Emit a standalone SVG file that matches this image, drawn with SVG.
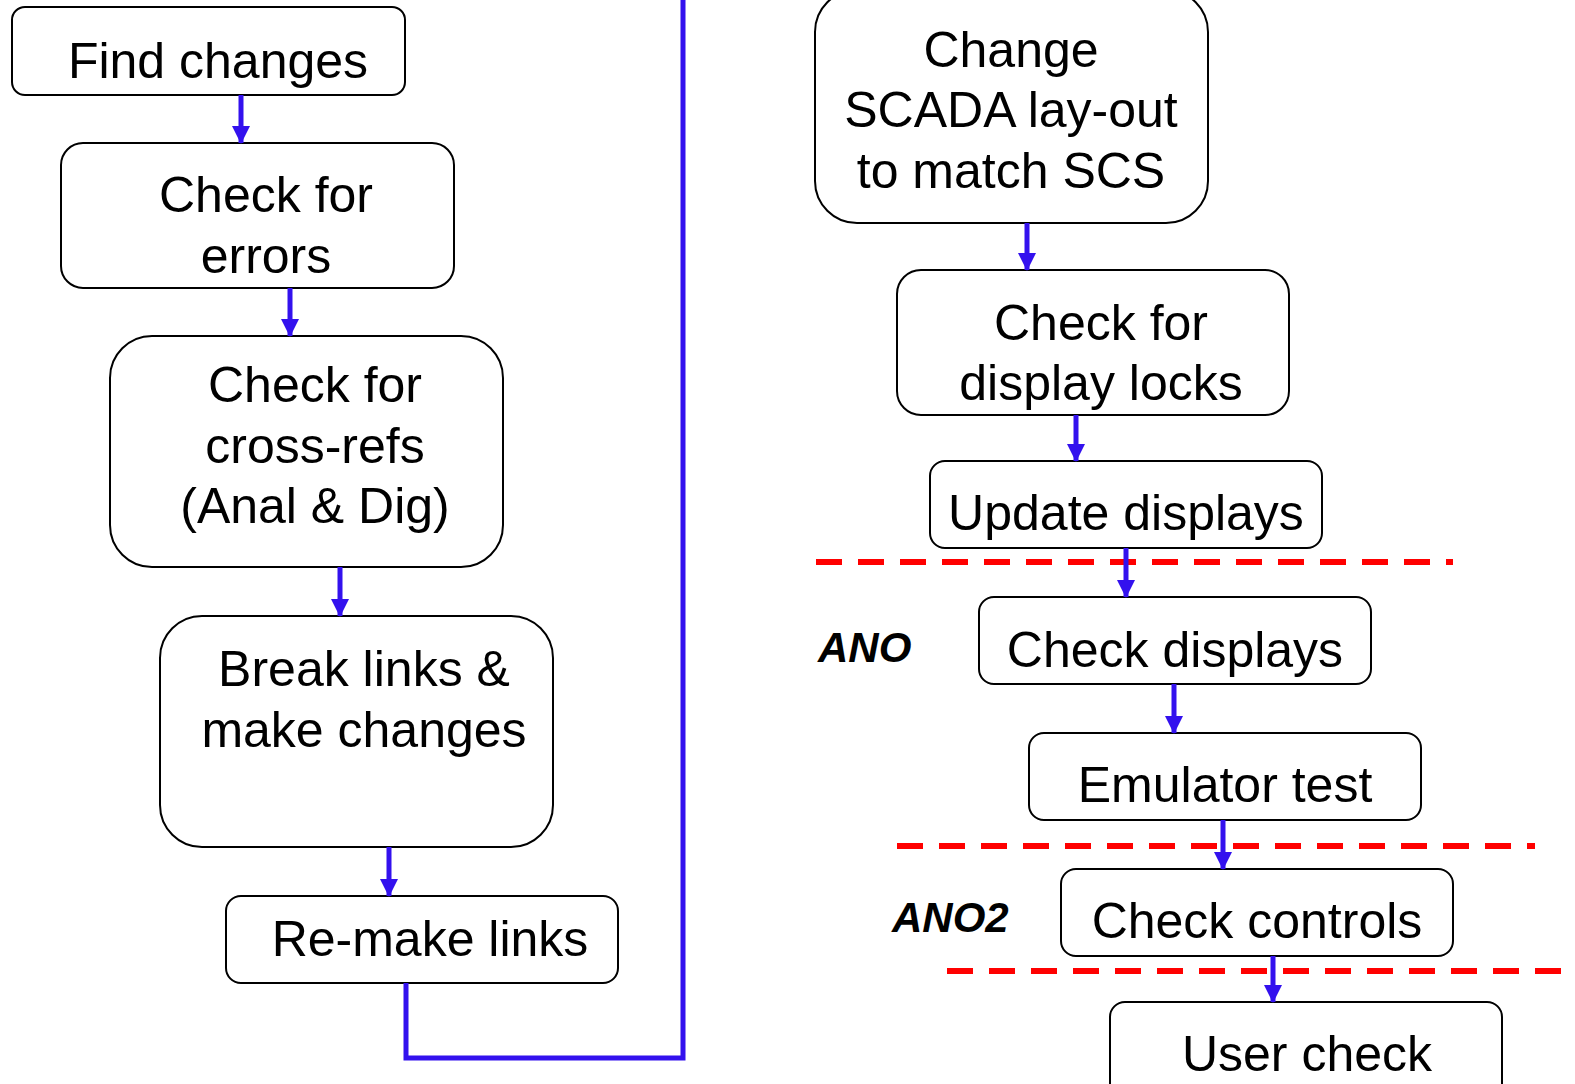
<svg xmlns="http://www.w3.org/2000/svg" width="1575" height="1084" viewBox="0 0 1575 1084">
<style>
.box{fill:#fff;stroke:#000;stroke-width:2}
.t{font-family:"Liberation Sans",Arial,sans-serif;font-size:50px;fill:#000;text-anchor:middle}
.lbl{font-family:"Liberation Sans",Arial,sans-serif;font-size:42px;font-weight:bold;font-style:italic;fill:#000}
.arr{stroke:#3311EE;stroke-width:5;fill:none;marker-end:url(#ah)}
.loop{stroke:#3311EE;stroke-width:5;fill:none}
.sep{stroke:#FF0000;stroke-width:6;stroke-dasharray:26 16;fill:none}
</style>
<defs>
<marker id="ah" markerUnits="userSpaceOnUse" markerWidth="18" markerHeight="18" viewBox="0 0 18 18" refX="17" refY="9" orient="auto">
<path d="M0,0 L18,9 L0,18 Z" fill="#3311EE"/>
</marker>
</defs>
<rect width="1575" height="1084" fill="#fff"/>
<g id="separators">
<line class="sep" x1="816" y1="562" x2="1453" y2="562"/>
<line class="sep" x1="897" y1="846" x2="1535" y2="846"/>
<line class="sep" x1="947" y1="971" x2="1575" y2="971"/>
</g>
<g id="n1"><rect class="box" x="12" y="7" width="393" height="88" rx="13"/><text class="t" x="218" y="78">Find changes</text></g>
<g id="n2"><rect class="box" x="61" y="143" width="393" height="145" rx="22"/><text class="t" x="266" y="212">Check for</text><text class="t" x="266" y="273">errors</text></g>
<g id="n3"><rect class="box" x="110" y="336" width="393" height="231" rx="42"/><text class="t" x="315" y="402">Check for</text><text class="t" x="315" y="463">cross-refs</text><text class="t" x="315" y="523">(Anal &amp; Dig)</text></g>
<g id="n4"><rect class="box" x="160" y="616" width="393" height="231" rx="42"/><text class="t" x="364" y="686">Break links &amp;</text><text class="t" x="364" y="747">make changes</text></g>
<g id="n5"><rect class="box" x="226" y="896" width="392" height="87" rx="15"/><text class="t" x="430" y="956">Re-make links</text></g>
<g id="n6"><rect class="box" x="815" y="-10" width="393" height="233" rx="42"/><text class="t" x="1011" y="67">Change</text><text class="t" x="1011" y="127">SCADA lay-out</text><text class="t" x="1011" y="188">to match SCS</text></g>
<g id="n7"><rect class="box" x="897" y="270" width="392" height="145" rx="24"/><text class="t" x="1101" y="340">Check for</text><text class="t" x="1101" y="400">display locks</text></g>
<g id="n8"><rect class="box" x="930" y="461" width="392" height="87" rx="15"/><text class="t" x="1126" y="530">Update displays</text></g>
<g id="n9"><rect class="box" x="979" y="597" width="392" height="87" rx="15"/><text class="t" x="1175" y="667">Check displays</text></g>
<g id="n10"><rect class="box" x="1029" y="733" width="392" height="87" rx="15"/><text class="t" x="1225" y="802">Emulator test</text></g>
<g id="n11"><rect class="box" x="1061" y="869" width="392" height="87" rx="15"/><text class="t" x="1257" y="938">Check controls</text></g>
<g id="n12"><rect class="box" x="1110" y="1002" width="392" height="100" rx="15"/><text class="t" x="1307" y="1071">User check</text></g>
<g id="labels">
<text class="lbl" x="818" y="662">ANO</text>
<text class="lbl" x="892" y="932">ANO2</text>
</g>
<g id="connectors">
<line class="arr" x1="241" y1="95" x2="241" y2="143"/>
<line class="arr" x1="290" y1="288" x2="290" y2="336"/>
<line class="arr" x1="340" y1="567" x2="340" y2="616"/>
<line class="arr" x1="389" y1="847" x2="389" y2="896"/>
<polyline class="loop" points="406,983 406,1058 683,1058 683,0"/>
<line class="arr" x1="1027" y1="223" x2="1027" y2="270"/>
<line class="arr" x1="1076" y1="415" x2="1076" y2="461"/>
<line class="arr" x1="1126" y1="548" x2="1126" y2="597"/>
<line class="arr" x1="1174" y1="684" x2="1174" y2="733"/>
<line class="arr" x1="1223" y1="820" x2="1223" y2="869"/>
<line class="arr" x1="1273" y1="956" x2="1273" y2="1002"/>
</g>
</svg>
